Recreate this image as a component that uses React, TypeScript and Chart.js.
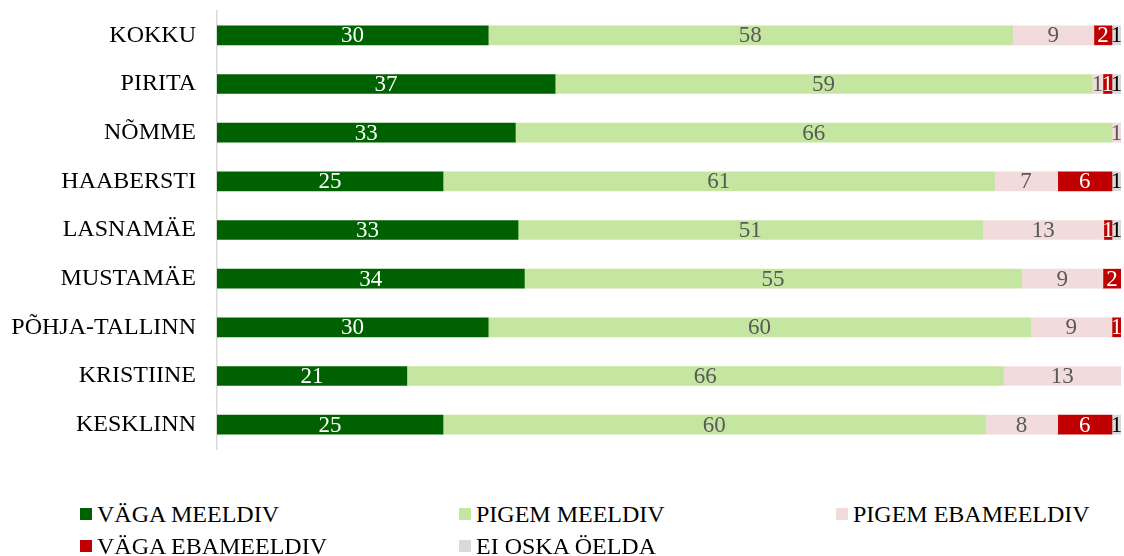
import React, { useEffect, useRef } from "react";
import { Chart, registerables } from "chart.js";

Chart.register(...registerables);

const categories = ["KOKKU", "PIRITA", "NÕMME", "HAABERSTI", "LASNAMÄE", "MUSTAMÄE", "PÕHJA-TALLINN", "KRISTIINE", "KESKLINN"];
const seriesNames = ["VÄGA MEELDIV", "PIGEM MEELDIV", "PIGEM EBAMEELDIV", "VÄGA EBAMEELDIV", "EI OSKA ÖELDA"];
const vagaMeeldiv = [30, 37.4, 33, 25, 33.3, 34, 30, 21, 25];
const pigemMeeldiv = [58, 59.4, 66, 61, 51.4, 55, 60, 66, 60];
const pigemEbameeldiv = [9, 1.2, 1, 7, 13.4, 9, 9, 13, 8];
const vagaEbameeldiv = [2, 1, 0, 6, 0.9, 2, 1, 0, 6];
const eiOska = [1, 1, 0, 1, 1, 0, 0, 0, 1];

const colors = ["#006100", "#c5e6a0", "#f2dcdb", "#c00000", "#d9d9d9"];
const labelColors = ["#ffffff", "#595959", "#595959", "#ffffff", "#000000"];
const FONT = "'Liberation Serif', 'Times New Roman', serif";

const valueLabels = {
  id: "valueLabels",
  afterDatasetsDraw(chart: any) {
    const ctx = chart.ctx;
    ctx.save();
    ctx.font = `23px ${FONT}`;
    ctx.textAlign = "center";
    ctx.textBaseline = "middle";
    chart.data.datasets.forEach((ds: any, di: number) => {
      const meta = chart.getDatasetMeta(di);
      meta.data.forEach((bar: any, i: number) => {
        const v = ds.data[i];
        if (!v) return;
        const x = (bar.x + bar.base) / 2;
        ctx.fillStyle = labelColors[di];
        ctx.fillText(String(Math.round(v)), x, bar.y + 1);
      });
    });
    ctx.restore();
  },
};

export default function App() {
  const ref = useRef<HTMLCanvasElement>(null);
  useEffect(() => {
    const all = [vagaMeeldiv, pigemMeeldiv, pigemEbameeldiv, vagaEbameeldiv, eiOska];
    const chart = new Chart(ref.current!, {
      type: "bar",
      data: {
        labels: categories,
        datasets: all.map((d, i) => ({
          label: seriesNames[i],
          data: d,
          backgroundColor: colors[i],
          borderWidth: 0,
          barThickness: 19,
        })),
      },
      options: {
        indexAxis: "y",
        animation: false,
        responsive: false,
        maintainAspectRatio: false,
        layout: { padding: { top: 11, bottom: 21, right: 3, left: 0 } },
        plugins: { legend: { display: false }, tooltip: { enabled: false } },
        scales: {
          x: { stacked: true, min: 0, max: 100, display: false },
          y: {
            stacked: true,
            grid: { display: false, drawTicks: false },
            border: { display: true, color: "#d9d9d9", width: 1.5 },
            ticks: { color: "#000", font: { family: FONT, size: 24 }, padding: 21 },
            afterFit: (scale: any) => {
              scale.width = 217;
              scale.paddingTop = 0;
              scale.paddingBottom = 0;
            },
          },
        },
      },
      plugins: [valueLabels],
    } as any);
    return () => chart.destroy();
  }, []);

  const legendPos = [
    [80, 514],
    [459, 514],
    [836, 514],
    [80, 546],
    [459, 546],
  ];

  return (
    <div style={{ position: "fixed", left: 0, top: 0, width: 1124, height: 556, background: "#fff" }}>
      <canvas ref={ref} width={1124} height={470} style={{ position: "absolute", left: 0, top: 0, width: 1124, height: 470 }} />
      {seriesNames.map((n, i) => (
        <div
          key={n}
          style={{
            position: "absolute",
            left: legendPos[i][0],
            top: legendPos[i][1] - 14,
            height: 28,
            display: "flex",
            alignItems: "center",
            fontFamily: FONT,
            fontSize: 24,
            color: "#000",
            whiteSpace: "nowrap",
          }}
        >
          <span style={{ display: "inline-block", width: 12, height: 12, background: colors[i], marginRight: 5 }} />
          {n}
        </div>
      ))}
    </div>
  );
}
